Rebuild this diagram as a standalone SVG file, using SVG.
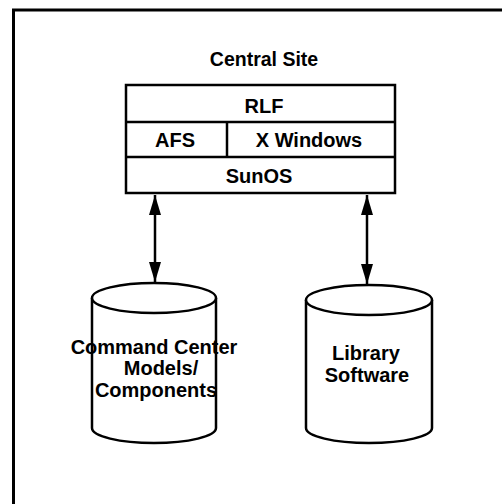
<svg xmlns="http://www.w3.org/2000/svg" width="502" height="504" viewBox="0 0 502 504">
<defs>
<style>
.t{font-family:"Liberation Sans",Arial,sans-serif;font-weight:bold;font-size:20px;fill:#000;text-anchor:middle}
.s{fill:none;stroke:#000;stroke-width:2.5}
.c{fill:#fff;stroke:#000;stroke-width:2.5}
</style>
<marker id="ah" viewBox="0 0 20 12" refX="20" refY="6" markerWidth="20" markerHeight="12" markerUnits="userSpaceOnUse" orient="auto-start-reverse">
<path d="M0,0 L20,6 L0,12 Z" fill="#000"/>
</marker>
</defs>
<rect x="0" y="0" width="502" height="504" fill="#fff"/>
<rect x="13.5" y="10" width="500" height="500" fill="none" stroke="#000" stroke-width="3"/>
<g id="central-site">
<text class="t" x="264" y="66" style="font-size:19.5px">Central Site</text>
<rect x="126" y="85" width="269" height="108" class="s" fill="#fff"/>
<line x1="126" y1="122" x2="395" y2="122" class="s"/>
<line x1="126" y1="157" x2="395" y2="157" class="s"/>
<line x1="227" y1="122" x2="227" y2="157" class="s"/>
<text class="t" x="264" y="113">RLF</text>
<text class="t" x="175" y="147">AFS</text>
<text class="t" x="309" y="147">X Windows</text>
<text class="t" x="259" y="183">SunOS</text>
</g>
<g id="connectors">
<line x1="155" y1="195" x2="155" y2="282" stroke="#000" stroke-width="2.5" marker-start="url(#ah)" marker-end="url(#ah)"/>
<line x1="367" y1="195" x2="367" y2="284" stroke="#000" stroke-width="2.5" marker-start="url(#ah)" marker-end="url(#ah)"/>
</g>
<g id="command-center">
<path class="c" d="M92,298 L92,428 A62,15 0 0 0 216,428 L216,298"/>
<ellipse class="c" cx="154" cy="298" rx="62" ry="15"/>
<text class="t" x="154" y="354">Command Center</text>
<text class="t" x="161" y="375">Models/</text>
<text class="t" x="156" y="397">Components</text>
</g>
<g id="library-software">
<path class="c" d="M306,300 L306,428 A63,15 0 0 0 432,428 L432,300"/>
<ellipse class="c" cx="369" cy="300" rx="63" ry="15"/>
<text class="t" x="366" y="360">Library</text>
<text class="t" x="367" y="382">Software</text>
</g>
</svg>
